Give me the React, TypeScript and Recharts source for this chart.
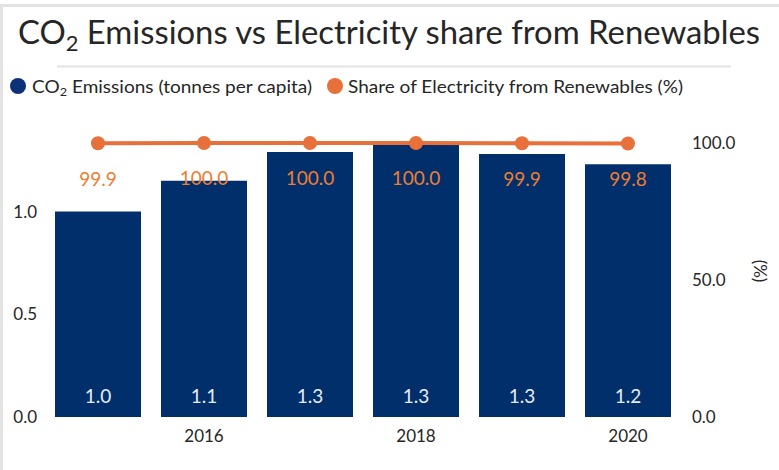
import { Bar, ComposedChart, LabelList, Line, XAxis, YAxis } from "recharts"

const YEARS = ["2015", "2016", "2017", "2018", "2019", "2020"]
const CO2_PER_CAPITA = [1.0, 1.15, 1.29, 1.325, 1.28, 1.23]
const RENEWABLE_SHARE = [99.9, 100.0, 100.0, 100.0, 99.9, 99.8]
const X_TICK_YEARS = ["2016", "2018", "2020"]
const LEFT_TICKS = [0, 0.5, 1.0]
const RIGHT_TICKS = [0, 50, 100]

const LEFT_MAX = 4 / 3

const BLUE = "#002F6C"
const ORANGE = "#E8703A"
const ORANGE_LABEL = "#ED7D31"
const TEXT = "#262626"
const FONT = "Lato, 'Open Sans', sans-serif"

const data = YEARS.map((year, i) => ({
  year,
  co2: CO2_PER_CAPITA[i],
  share: RENEWABLE_SHARE[i],
}))

const fmt1 = (v: unknown) => Number(v).toFixed(1)
const axisTick = { fill: TEXT, fontSize: 17, fontFamily: FONT }

export default function App() {
  return (
    <div
      style={{
        position: "absolute",
        left: 0,
        top: 0,
        width: 779,
        height: 470,
        background: "#fff",
        overflow: "hidden",
      }}
    >
      <div style={{ position: "absolute", left: 0, top: 0 }}>
        <ComposedChart
          width={779}
          height={470}
          data={data}
          margin={{ top: 143, right: 0, bottom: 23, left: 0 }}
        >
          <XAxis
            dataKey="year"
            interval={0}
            tickLine={false}
            axisLine={false}
            tick={axisTick}
            tickMargin={7}
            height={30}
            tickFormatter={(v) => (X_TICK_YEARS.includes(String(v)) ? v : "")}
          />
          <YAxis
            yAxisId="left"
            orientation="left"
            width={45}
            domain={[0, LEFT_MAX]}
            ticks={LEFT_TICKS}
            tickFormatter={fmt1}
            tickLine={false}
            axisLine={false}
            tick={axisTick}
            allowDataOverflow
          />
          <YAxis
            yAxisId="right"
            orientation="right"
            width={98}
            domain={[0, 100]}
            ticks={RIGHT_TICKS}
            tickFormatter={fmt1}
            tickLine={false}
            axisLine={false}
            tick={axisTick}
            tickMargin={5}
          />
          <Bar
            yAxisId="left"
            dataKey="co2"
            fill={BLUE}
            barSize={86}
            isAnimationActive={false}
          >
            <LabelList
              dataKey="co2"
              position="insideBottom"
              offset={14}
              fill="#E6EBF2"
              fontSize={19}
              fontFamily={FONT}
              formatter={fmt1}
            />
          </Bar>
          <Line
            yAxisId="right"
            dataKey="share"
            stroke={ORANGE}
            strokeWidth={4}
            dot={{ r: 7, fill: ORANGE, stroke: ORANGE, strokeWidth: 0 }}
            isAnimationActive={false}
          >
            <LabelList
              dataKey="share"
              position="bottom"
              offset={29}
              fill={ORANGE_LABEL}
              fontSize={19}
              fontFamily={FONT}
              formatter={fmt1}
            />
          </Line>
        </ComposedChart>
      </div>
      <svg
        width={779}
        height={470}
        style={{ position: "absolute", left: 0, top: 0, pointerEvents: "none" }}
        fontFamily={FONT}
      >
        <rect x={0} y={4} width={779} height={3} fill="#E3E3E3" />
        <rect x={0} y={4} width={3} height={466} fill="#E3E3E3" />
        <line x1={57} x2={731} y1={66.5} y2={66.5} stroke="#E3E3E3" strokeWidth={2} />
        <text
          x={18}
          y={44}
          fontSize={33}
          fill={TEXT}
          textLength={742}
          lengthAdjust="spacingAndGlyphs"
        >
          CO
          <tspan fontSize={22} dy={7}>
            2
          </tspan>
          <tspan dy={-7}> Emissions vs Electricity share from Renewables</tspan>
        </text>
        <circle cx={18} cy={86} r={8} fill="#0D3178" />
        <text
          x={32}
          y={92.5}
          fontSize={18}
          fill={TEXT}
          textLength={280}
          lengthAdjust="spacingAndGlyphs"
        >
          CO
          <tspan fontSize={12} dy={3}>
            2
          </tspan>
          <tspan dy={-3}> Emissions (tonnes per capita)</tspan>
        </text>
        <circle cx={335} cy={86} r={8} fill={ORANGE} />
        <text
          x={348}
          y={92.5}
          fontSize={18}
          fill={TEXT}
          textLength={335}
          lengthAdjust="spacingAndGlyphs"
        >
          Share of Electricity from Renewables (%)
        </text>
        <text
          x={760}
          y={271}
          fontSize={17}
          fill={TEXT}
          textAnchor="middle"
          dominantBaseline="central"
          transform="rotate(90 760 271)"
        >
          (%)
        </text>
      </svg>
    </div>
  )
}
